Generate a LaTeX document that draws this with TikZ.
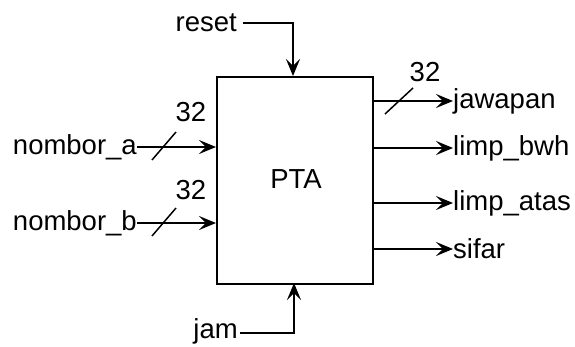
\documentclass[tikz,border=0pt]{standalone}
\usepackage{fontspec}
\setmainfont{Liberation Sans}
\usetikzlibrary{arrows.meta}
\begin{document}
\begin{tikzpicture}[x=1pt,y=-1pt,
  every node/.style={font=\fontsize{27.5}{30}\selectfont, inner sep=0pt},
  wire/.style={line width=2pt},
  sig/.style={wire, -{Stealth[length=17pt,width=14pt,inset=7pt]}},
  busmark/.style={line width=1.5pt}]
\useasboundingbox (0,0) rectangle (575,346);
\node[draw, line width=2pt, minimum width=156pt, minimum height=207pt, anchor=north west] (pta) at (216,76) {};
\node (ptal) at (296,179) {PTA};
% inputs
\node[anchor=east] (reset) at (237,23) {reset};
\coordinate (rc) at (293,23);
\coordinate (rtop) at (293,76);
\draw[sig] (reset.east) ++(6,0) -- (rc) -- (rtop);
\node[anchor=east] (jam) at (238,331) {jam};
\coordinate (jc) at (294,333);
\coordinate (jbot) at (294,283);
\draw[sig] (240,333) -- (jc) -- (jbot);
\node[anchor=east] (na) at (137,147) {nombor\_a};
\coordinate (nat) at (216,147);
\draw[sig] (na.east) -- (nat);
\draw[busmark] (152,160) -- (176,132);
\node (na32) at (191,112) {32};
\node[anchor=east] (nb) at (137,223) {nombor\_b};
\coordinate (nbt) at (216,223);
\draw[sig] (nb.east) -- (nbt);
\draw[busmark] (152,236) -- (176,208);
\node (nb32) at (191,190) {32};
% outputs
\node[anchor=west] (jw) at (453,101) {jawapan};
\node[anchor=west] (lb) at (453,148) {limp\_bwh};
\node[anchor=west] (la) at (453,203) {limp\_atas};
\node[anchor=west] (sf) at (453,249) {sifar};
\draw[sig] (372,101) -- (jw.west);
\draw[sig] (372,148) -- (lb.west);
\draw[sig] (372,203) -- (la.west);
\draw[sig] (372,249) -- (sf.west);
\draw[busmark] (385,114) -- (413,88);
\node (jw32) at (425,72) {32};
\end{tikzpicture}
\end{document}
